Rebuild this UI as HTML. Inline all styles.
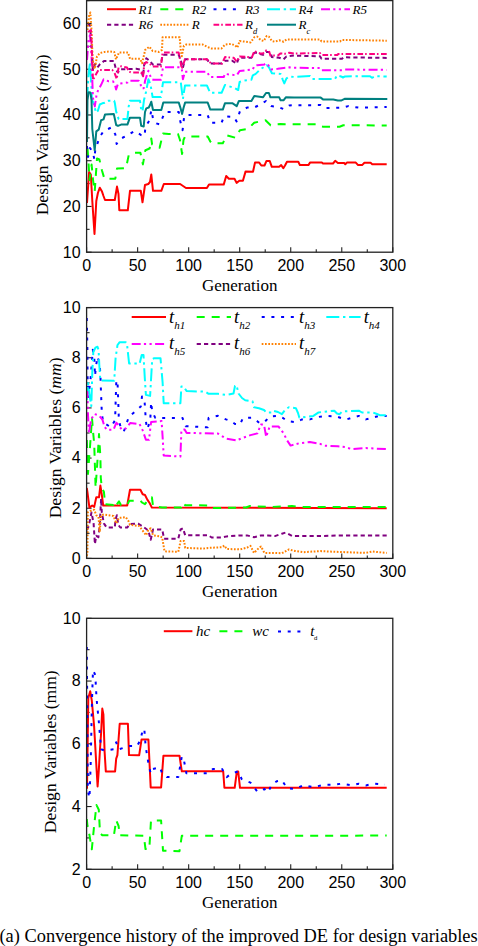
<!DOCTYPE html><html><head><meta charset="utf-8"><style>html,body{margin:0;padding:0;background:#fff;width:478px;height:946px;overflow:hidden}svg{display:block}</style></head><body>
<svg width="478" height="946" viewBox="0 0 478 946">
<g stroke="#222" stroke-width="1.1" fill="none">
<line x1="86.60" y1="252.20" x2="86.60" y2="247.20"/>
<line x1="112.12" y1="252.20" x2="112.12" y2="249.20"/>
<line x1="137.63" y1="252.20" x2="137.63" y2="247.20"/>
<line x1="163.15" y1="252.20" x2="163.15" y2="249.20"/>
<line x1="188.67" y1="252.20" x2="188.67" y2="247.20"/>
<line x1="214.18" y1="252.20" x2="214.18" y2="249.20"/>
<line x1="239.70" y1="252.20" x2="239.70" y2="247.20"/>
<line x1="265.22" y1="252.20" x2="265.22" y2="249.20"/>
<line x1="290.73" y1="252.20" x2="290.73" y2="247.20"/>
<line x1="316.25" y1="252.20" x2="316.25" y2="249.20"/>
<line x1="341.77" y1="252.20" x2="341.77" y2="247.20"/>
<line x1="367.28" y1="252.20" x2="367.28" y2="249.20"/>
<line x1="392.80" y1="252.20" x2="392.80" y2="247.20"/>
<line x1="86.60" y1="252.20" x2="91.60" y2="252.20"/>
<line x1="86.60" y1="229.33" x2="89.60" y2="229.33"/>
<line x1="86.60" y1="206.45" x2="91.60" y2="206.45"/>
<line x1="86.60" y1="183.58" x2="89.60" y2="183.58"/>
<line x1="86.60" y1="160.71" x2="91.60" y2="160.71"/>
<line x1="86.60" y1="137.84" x2="89.60" y2="137.84"/>
<line x1="86.60" y1="114.96" x2="91.60" y2="114.96"/>
<line x1="86.60" y1="92.09" x2="89.60" y2="92.09"/>
<line x1="86.60" y1="69.22" x2="91.60" y2="69.22"/>
<line x1="86.60" y1="46.35" x2="89.60" y2="46.35"/>
<line x1="86.60" y1="23.47" x2="91.60" y2="23.47"/>
<line x1="86.60" y1="0.60" x2="89.60" y2="0.60"/>
</g>
<g font-family="Liberation Sans, sans-serif" font-size="16" fill="#000">
<text x="80.6" y="257.50" text-anchor="end">10</text>
<text x="80.6" y="211.75" text-anchor="end">20</text>
<text x="80.6" y="166.01" text-anchor="end">30</text>
<text x="80.6" y="120.26" text-anchor="end">40</text>
<text x="80.6" y="74.52" text-anchor="end">50</text>
<text x="80.6" y="28.77" text-anchor="end">60</text>
<text x="86.60" y="270.50" text-anchor="middle">0</text>
<text x="137.63" y="270.50" text-anchor="middle">50</text>
<text x="188.67" y="270.50" text-anchor="middle">100</text>
<text x="239.70" y="270.50" text-anchor="middle">150</text>
<text x="290.73" y="270.50" text-anchor="middle">200</text>
<text x="341.77" y="270.50" text-anchor="middle">250</text>
<text x="392.80" y="270.50" text-anchor="middle">300</text>
</g>
<text x="239.7" y="290.60" font-family="Liberation Serif, serif" font-size="17.0" text-anchor="middle">Generation</text>
<g stroke="#222" stroke-width="1.1" fill="none">
<line x1="86.60" y1="558.40" x2="86.60" y2="553.40"/>
<line x1="112.12" y1="558.40" x2="112.12" y2="555.40"/>
<line x1="137.63" y1="558.40" x2="137.63" y2="553.40"/>
<line x1="163.15" y1="558.40" x2="163.15" y2="555.40"/>
<line x1="188.67" y1="558.40" x2="188.67" y2="553.40"/>
<line x1="214.18" y1="558.40" x2="214.18" y2="555.40"/>
<line x1="239.70" y1="558.40" x2="239.70" y2="553.40"/>
<line x1="265.22" y1="558.40" x2="265.22" y2="555.40"/>
<line x1="290.73" y1="558.40" x2="290.73" y2="553.40"/>
<line x1="316.25" y1="558.40" x2="316.25" y2="555.40"/>
<line x1="341.77" y1="558.40" x2="341.77" y2="553.40"/>
<line x1="367.28" y1="558.40" x2="367.28" y2="555.40"/>
<line x1="392.80" y1="558.40" x2="392.80" y2="553.40"/>
<line x1="86.60" y1="558.40" x2="91.60" y2="558.40"/>
<line x1="86.60" y1="533.32" x2="89.60" y2="533.32"/>
<line x1="86.60" y1="508.24" x2="91.60" y2="508.24"/>
<line x1="86.60" y1="483.16" x2="89.60" y2="483.16"/>
<line x1="86.60" y1="458.08" x2="91.60" y2="458.08"/>
<line x1="86.60" y1="433.00" x2="89.60" y2="433.00"/>
<line x1="86.60" y1="407.92" x2="91.60" y2="407.92"/>
<line x1="86.60" y1="382.84" x2="89.60" y2="382.84"/>
<line x1="86.60" y1="357.76" x2="91.60" y2="357.76"/>
<line x1="86.60" y1="332.68" x2="89.60" y2="332.68"/>
<line x1="86.60" y1="307.60" x2="91.60" y2="307.60"/>
</g>
<g font-family="Liberation Sans, sans-serif" font-size="16" fill="#000">
<text x="80.6" y="563.70" text-anchor="end">0</text>
<text x="80.6" y="513.54" text-anchor="end">2</text>
<text x="80.6" y="463.38" text-anchor="end">4</text>
<text x="80.6" y="413.22" text-anchor="end">6</text>
<text x="80.6" y="363.06" text-anchor="end">8</text>
<text x="80.6" y="312.90" text-anchor="end">10</text>
<text x="86.60" y="576.70" text-anchor="middle">0</text>
<text x="137.63" y="576.70" text-anchor="middle">50</text>
<text x="188.67" y="576.70" text-anchor="middle">100</text>
<text x="239.70" y="576.70" text-anchor="middle">150</text>
<text x="290.73" y="576.70" text-anchor="middle">200</text>
<text x="341.77" y="576.70" text-anchor="middle">250</text>
<text x="392.80" y="576.70" text-anchor="middle">300</text>
</g>
<text x="239.7" y="596.80" font-family="Liberation Serif, serif" font-size="17.0" text-anchor="middle">Generation</text>
<g stroke="#222" stroke-width="1.1" fill="none">
<line x1="86.60" y1="869.30" x2="86.60" y2="864.30"/>
<line x1="112.12" y1="869.30" x2="112.12" y2="866.30"/>
<line x1="137.63" y1="869.30" x2="137.63" y2="864.30"/>
<line x1="163.15" y1="869.30" x2="163.15" y2="866.30"/>
<line x1="188.67" y1="869.30" x2="188.67" y2="864.30"/>
<line x1="214.18" y1="869.30" x2="214.18" y2="866.30"/>
<line x1="239.70" y1="869.30" x2="239.70" y2="864.30"/>
<line x1="265.22" y1="869.30" x2="265.22" y2="866.30"/>
<line x1="290.73" y1="869.30" x2="290.73" y2="864.30"/>
<line x1="316.25" y1="869.30" x2="316.25" y2="866.30"/>
<line x1="341.77" y1="869.30" x2="341.77" y2="864.30"/>
<line x1="367.28" y1="869.30" x2="367.28" y2="866.30"/>
<line x1="392.80" y1="869.30" x2="392.80" y2="864.30"/>
<line x1="86.60" y1="869.30" x2="91.60" y2="869.30"/>
<line x1="86.60" y1="837.92" x2="89.60" y2="837.92"/>
<line x1="86.60" y1="806.55" x2="91.60" y2="806.55"/>
<line x1="86.60" y1="775.17" x2="89.60" y2="775.17"/>
<line x1="86.60" y1="743.80" x2="91.60" y2="743.80"/>
<line x1="86.60" y1="712.42" x2="89.60" y2="712.42"/>
<line x1="86.60" y1="681.05" x2="91.60" y2="681.05"/>
<line x1="86.60" y1="649.67" x2="89.60" y2="649.67"/>
<line x1="86.60" y1="618.30" x2="91.60" y2="618.30"/>
</g>
<g font-family="Liberation Sans, sans-serif" font-size="16" fill="#000">
<text x="80.6" y="874.60" text-anchor="end">2</text>
<text x="80.6" y="811.85" text-anchor="end">4</text>
<text x="80.6" y="749.10" text-anchor="end">6</text>
<text x="80.6" y="686.35" text-anchor="end">8</text>
<text x="80.6" y="623.60" text-anchor="end">10</text>
<text x="86.60" y="887.60" text-anchor="middle">0</text>
<text x="137.63" y="887.60" text-anchor="middle">50</text>
<text x="188.67" y="887.60" text-anchor="middle">100</text>
<text x="239.70" y="887.60" text-anchor="middle">150</text>
<text x="290.73" y="887.60" text-anchor="middle">200</text>
<text x="341.77" y="887.60" text-anchor="middle">250</text>
<text x="392.80" y="887.60" text-anchor="middle">300</text>
</g>
<text x="239.7" y="907.70" font-family="Liberation Serif, serif" font-size="17.0" text-anchor="middle">Generation</text>
<text transform="translate(48,134.9) rotate(-90)" font-family="Liberation Serif, serif" font-size="17.6" text-anchor="middle">Design Variables (<tspan font-style="italic">mm</tspan>)</text>
<text transform="translate(61.3,437.9) rotate(-90)" font-family="Liberation Serif, serif" font-size="17.6" text-anchor="middle">Design Variables (<tspan font-style="italic">mm</tspan>)</text>
<text transform="translate(55.5,751.7) rotate(-90)" font-family="Liberation Serif, serif" font-size="17.6" text-anchor="middle">Design Variables (mm)</text>
<text x="-0.5" y="942.3" font-family="Liberation Serif, serif" font-size="18.4">(a) Convergence history of the improved DE for design variables</text>
<defs><clipPath id="c1"><rect x="86.6" y="0.6" width="306.20" height="251.60"/></clipPath><clipPath id="c2"><rect x="86.6" y="307.6" width="306.20" height="250.80"/></clipPath><clipPath id="c3"><rect x="86.6" y="618.3" width="306.20" height="251.00"/></clipPath></defs>
<g clip-path="url(#c1)">
<polyline points="87.0,203.0 89.1,172.0 90.8,174.5 92.3,201.0 94.5,234.0 96.3,201.0 97.9,193.0 99.8,187.7 102.0,191.6 103.5,196.0 105.0,200.0 114.8,200.0 117.0,186.6 118.5,194.0 119.3,210.3 127.8,210.3 130.0,190.8 140.8,190.8 142.5,202.3 145.0,185.0 148.3,184.0 150.0,182.0 151.3,174.5 153.0,190.8 161.3,190.8 163.8,184.0 180.1,184.0 186.0,188.0 206.9,188.1 209.0,184.6 223.7,184.6 226.2,176.0 228.9,178.7 234.5,178.7 236.6,182.9 239.3,180.8 242.9,180.8 245.6,171.4 253.0,171.8 255.0,162.6 259.2,162.6 261.3,165.5 264.5,165.5 266.5,160.9 269.7,160.9 271.8,166.8 279.1,166.8 281.2,165.1 283.3,168.2 285.0,165.5 287.0,161.7 298.3,161.7 299.9,165.1 308.4,165.1 310.2,162.4 321.8,162.4 323.0,163.5 333.0,163.5 335.2,160.8 337.9,163.0 344.2,163.0 345.3,164.2 346.9,162.6 355.8,162.6 358.1,165.1 362.1,165.1 364.4,162.8 370.6,162.8 372.2,164.2 386.7,164.2" fill="none" stroke="#FF0000" stroke-width="2.0" stroke-linejoin="round"/>
<polyline points="87.5,148.5 88.4,160.0 89.5,180.0 91.6,164.6 93.1,180.5 94.7,191.6 97.0,158.5 99.4,159.5 101.9,170.3 104.4,178.7 115.3,178.7 117.0,168.6 126.0,168.0 128.7,155.2 134.5,152.7 140.4,152.7 142.9,164.4 145.4,150.2 149.6,148.5 151.3,138.5 152.1,144.4 155.0,146.5 159.6,147.7 163.0,133.5 168.8,134.0 178.0,134.0 180.0,140.0 182.1,154.0 183.5,140.0 185.1,136.5 207.7,136.5 210.3,141.5 212.0,143.3 222.8,143.3 226.6,135.2 235.4,137.7 239.9,130.2 248.0,129.0 254.2,122.7 265.5,120.2 270.6,125.2 273.0,124.5 280.5,124.0 285.0,124.2 318.0,124.2 320.7,126.0 323.0,126.7 339.6,126.7 343.3,125.2 386.7,125.5" fill="none" stroke="#00FF00" stroke-width="2.0" stroke-linejoin="round" stroke-dasharray="8 7"/>
<polyline points="87.0,146.0 88.0,157.0 90.0,148.0 92.7,151.9 94.4,159.4 95.2,150.2 99.4,137.7 103.6,131.0 111.1,127.6 115.3,134.3 116.6,143.9 121.1,138.5 127.8,135.1 134.5,131.0 141.2,135.1 144.6,136.0 145.4,126.8 149.6,120.1 151.3,110.0 153.5,121.0 156.3,123.4 159.6,124.3 163.0,116.7 165.0,112.1 178.8,112.1 180.0,120.0 182.6,130.2 184.0,118.0 185.1,115.1 207.7,115.1 210.3,122.7 221.6,122.7 224.0,116.4 234.0,117.0 236.6,121.4 239.9,111.4 247.0,107.6 254.0,107.6 260.1,104.7 266.0,101.0 271.1,106.1 277.7,106.8 283.6,109.1 289.4,105.4 294.0,105.2 320.7,105.1 324.5,108.1 343.0,107.6 348.4,106.1 358.4,107.6 386.7,107.0" fill="none" stroke="#0000FF" stroke-width="2.0" stroke-linejoin="round" stroke-dasharray="3 6.7"/>
<polyline points="87.0,100.0 88.5,75.0 90.0,62.0 91.0,80.0 92.0,100.0 93.5,102.7 96.0,112.7 97.9,110.8 99.8,104.5 102.3,103.3 104.8,102.7 108.0,100.8 114.2,100.8 114.9,103.3 116.1,111.4 118.6,119.0 127.4,119.0 128.7,106.4 129.9,100.8 140.0,100.8 141.2,109.6 142.5,111.4 144.0,100.0 146.0,92.0 148.4,79.2 150.5,84.4 152.6,97.0 160.9,97.0 163.0,82.3 180.8,82.3 182.9,99.0 185.0,85.4 206.9,85.4 210.1,92.8 221.6,92.8 225.0,84.9 233.8,87.8 238.2,90.0 239.6,82.0 244.0,80.5 251.4,79.8 252.8,75.4 255.7,73.9 260.1,69.5 264.5,66.6 266.7,65.1 268.9,67.3 271.9,73.2 280.6,73.9 282.8,79.8 284.3,83.4 286.5,78.3 289.4,76.6 294.0,76.9 310.0,76.0 312.0,78.9 335.0,78.9 337.0,75.5 341.0,76.4 343.0,77.5 345.0,76.4 370.0,76.2 372.0,77.8 375.0,76.2 386.7,76.5" fill="none" stroke="#00FFFF" stroke-width="2.0" stroke-linejoin="round" stroke-dasharray="13 3.7 2.4 3.7"/>
<polyline points="87.0,60.0 88.5,40.0 90.0,35.0 91.5,55.0 92.9,97.6 94.8,106.4 96.7,93.9 98.5,89.5 101.0,85.1 103.6,79.4 108.6,81.3 113.0,81.3 114.9,84.5 116.1,89.5 118.0,83.8 123.6,83.2 127.4,82.6 128.7,80.7 138.7,80.7 140.6,83.8 141.2,88.2 143.7,88.2 145.2,80.2 148.4,70.8 151.5,79.2 153.5,79.8 160.9,79.8 163.0,67.2 179.7,67.2 181.8,68.7 182.9,79.2 185.0,71.8 206.9,71.8 210.1,77.1 223.7,77.1 225.0,73.9 236.7,75.4 239.6,71.0 252.8,69.5 254.3,65.9 257.2,65.2 264.5,64.4 266.0,63.4 268.2,65.0 271.1,69.5 277.7,68.8 283.6,68.0 289.4,67.3 294.0,67.8 320.0,68.0 321.5,70.2 343.0,70.2 345.0,69.5 386.7,69.9" fill="none" stroke="#FF00FF" stroke-width="2.0" stroke-linejoin="round" stroke-dasharray="9 3.2 2.2 3.4 2.2 3.4"/>
<polyline points="87.5,25.0 90.0,25.0 91.5,45.0 93.0,70.0 95.0,64.0 97.3,67.5 99.8,64.4 104.0,61.0 114.2,61.0 114.9,65.0 116.1,70.0 118.0,72.5 119.9,69.4 136.2,68.8 140.0,69.5 141.8,72.5 143.0,76.4 144.2,64.5 146.3,58.2 150.5,61.4 152.6,64.5 160.9,64.5 162.6,54.7 178.7,54.7 180.8,60.3 182.9,67.7 185.0,59.3 206.9,59.3 210.1,63.5 222.0,63.5 225.0,60.7 232.0,60.7 236.7,63.7 238.9,57.8 251.4,57.8 254.3,52.7 257.2,52.7 260.0,54.0 263.1,54.9 266.0,52.0 270.4,52.0 271.9,57.1 279.2,57.8 283.6,59.3 286.5,56.4 294.0,55.6 320.0,56.3 321.5,58.8 342.0,58.8 343.5,57.3 386.7,57.9" fill="none" stroke="#800080" stroke-width="2.0" stroke-linejoin="round" stroke-dasharray="4.2 3.1"/>
<polyline points="87.5,30.0 89.0,16.0 90.3,12.5 91.5,30.0 92.5,55.0 93.5,66.0 94.8,68.9 97.0,56.3 100.0,53.0 104.8,51.9 110.0,51.5 114.2,51.9 116.0,59.4 119.0,52.5 128.0,52.5 130.0,58.8 140.0,58.8 142.1,63.2 145.2,49.9 149.4,46.7 152.6,50.9 158.8,52.0 162.0,49.9 162.6,37.3 179.7,37.3 180.8,50.9 181.8,56.2 183.9,45.7 186.0,44.6 202.8,44.6 206.9,46.7 211.1,48.4 221.6,48.4 225.0,44.6 230.9,43.9 235.2,45.4 237.4,47.6 239.6,41.0 245.5,41.7 250.6,42.4 254.3,37.3 257.2,36.6 260.9,40.2 263.8,41.0 266.7,35.9 268.9,36.6 271.9,41.0 274.8,41.7 279.2,40.2 283.6,41.7 286.5,39.5 292.3,39.5 299.9,39.4 320.0,39.5 321.5,41.4 340.0,41.4 341.5,40.0 360.0,40.2 386.8,40.7" fill="none" stroke="#FF8000" stroke-width="2.0" stroke-linejoin="round" stroke-dasharray="1.7 1.6"/>
<polyline points="88.0,32.0 91.0,30.0 92.0,55.0 93.0,80.0 95.0,76.0 98.5,70.0 112.3,70.0 114.9,73.8 116.7,78.8 118.6,67.5 121.1,66.3 127.0,67.5 128.7,71.3 131.2,72.5 141.2,72.5 143.1,76.3 144.2,64.5 146.3,62.0 150.5,64.5 152.6,66.6 160.9,66.6 162.6,52.6 178.7,52.6 181.8,68.7 185.0,59.3 206.9,59.3 211.1,63.5 222.0,63.5 225.0,57.1 233.8,57.8 236.7,61.5 239.6,56.4 248.4,57.1 252.0,57.1 254.3,51.2 260.1,53.4 263.0,53.4 266.0,50.5 268.9,50.5 270.4,55.6 277.7,55.6 280.6,53.4 286.0,53.8 289.4,52.7 294.0,53.5 320.0,53.0 321.5,55.1 337.0,55.1 338.5,53.9 386.8,54.1" fill="none" stroke="#FF0080" stroke-width="2.0" stroke-linejoin="round" stroke-dasharray="5.7 2 1.6 2.5"/>
<polyline points="87.0,142.0 87.5,100.0 88.5,92.6 90.4,92.6 91.5,100.0 92.3,129.0 94.7,150.3 96.3,131.3 98.7,129.7 101.1,120.2 103.5,119.4 105.0,114.6 113.8,114.0 116.2,125.0 118.0,125.9 121.1,124.6 127.4,124.6 129.9,117.7 140.0,117.7 141.2,125.9 143.7,126.5 145.0,112.0 146.3,108.4 148.8,107.5 150.0,105.0 151.3,101.7 153.0,110.0 161.3,110.0 163.3,102.5 178.8,102.6 180.5,108.0 182.1,113.9 183.5,108.0 185.1,102.6 207.7,102.6 210.3,109.6 222.8,109.6 225.0,103.2 232.3,103.2 236.7,106.1 238.9,101.0 251.4,101.0 254.3,95.9 263.1,97.3 266.0,93.0 268.9,93.0 270.4,97.3 279.2,97.3 280.6,100.3 283.5,100.3 285.8,97.3 294.0,97.4 320.7,97.6 323.3,99.6 333.3,99.6 337.8,100.6 341.0,100.6 344.6,98.8 387.3,99.1" fill="none" stroke="#008080" stroke-width="2.0" stroke-linejoin="round"/>
</g>
<g clip-path="url(#c2)">
<polyline points="86.8,488.0 87.4,491.8 89.4,507.6 92.2,505.5 94.2,506.9 96.3,497.3 99.0,497.3 100.4,485.6 101.8,494.6 103.2,505.5 127.2,505.5 130.0,489.8 140.4,489.7 142.7,494.3 145.0,495.0 147.3,499.6 149.6,503.0 151.9,507.6 386.7,508.2" fill="none" stroke="#FF0000" stroke-width="2.0" stroke-linejoin="round"/>
<polyline points="86.8,440.0 88.0,474.0 89.0,460.0 90.5,440.0 92.0,418.0 92.9,430.0 94.2,443.7 95.6,487.7 97.5,460.0 99.0,434.0 100.4,457.5 100.8,478.0 101.8,487.7 103.9,491.8 105.2,504.2 113.5,504.9 114.8,502.1 116.5,504.9 119.0,501.4 121.0,504.9 127.2,504.9 129.3,500.7 140.4,500.7 142.0,502.5 145.0,504.2 148.0,500.0 151.9,497.3 153.0,505.8 162.2,507.6 181.0,507.6 183.0,502.6 185.2,505.3 196.7,505.3 208.0,505.5 210.6,508.1 246.0,507.5 250.0,506.0 256.0,506.5 270.0,507.0 292.0,506.0 300.0,507.0 386.7,507.0" fill="none" stroke="#00FF00" stroke-width="2.0" stroke-linejoin="round" stroke-dasharray="8 7"/>
<polyline points="86.8,318.0 87.4,350.0 87.6,378.0 88.3,397.0 90.5,380.0 92.8,349.7 94.3,358.0 95.0,376.0 96.0,366.0 97.6,356.6 99.7,364.8 100.4,374.4 101.0,392.0 101.8,412.7 103.1,422.3 110.7,427.2 115.1,420.3 115.7,400.0 116.3,381.0 117.0,380.2 117.6,384.0 118.2,400.0 118.8,417.8 120.0,425.0 123.8,431.6 128.9,416.6 135.1,411.6 140.8,406.5 142.0,396.5 143.5,397.0 144.5,400.3 145.2,410.3 145.8,420.3 147.0,429.1 150.2,421.6 151.1,402.2 152.2,411.6 155.3,417.9 182.5,417.9 185.6,426.2 207.6,427.3 208.6,417.9 218.0,415.8 226.0,419.4 231.0,421.0 235.0,424.0 240.0,424.6 243.0,418.0 252.2,417.7 257.0,421.0 259.2,422.9 264.0,422.5 269.7,416.6 278.0,415.9 283.0,418.0 287.1,421.1 295.9,422.2 302.0,419.4 309.9,419.4 318.0,417.0 325.6,415.9 336.0,416.3 341.0,418.0 346.5,419.4 352.0,417.7 358.8,415.9 365.8,419.4 372.0,417.7 379.7,415.9 386.7,415.9" fill="none" stroke="#0000FF" stroke-width="2.0" stroke-linejoin="round" stroke-dasharray="3 6.7"/>
<polyline points="86.8,400.0 88.0,383.0 89.5,395.0 91.3,406.0 92.3,372.0 93.3,352.0 95.4,347.7 97.5,346.7 98.6,350.0 99.3,365.0 100.3,380.5 114.2,380.8 115.6,358.0 117.5,345.0 119.5,342.3 125.9,342.3 127.2,346.0 129.1,363.5 139.6,363.5 141.7,355.1 143.5,355.1 144.8,378.1 145.9,394.9 150.1,395.9 152.2,359.3 154.2,358.2 160.5,358.2 162.6,382.3 163.7,403.2 180.4,403.2 181.4,386.5 183.5,386.5 186.7,391.1 205.5,391.7 208.6,393.8 218.0,393.8 226.0,394.9 233.5,393.5 235.0,386.0 236.5,385.2 238.5,393.5 242.0,398.0 245.2,400.2 252.5,401.2 254.0,407.2 259.0,408.2 264.0,410.0 266.2,412.4 272.0,412.4 273.2,410.7 278.0,412.0 281.9,414.2 285.0,410.0 288.9,407.2 295.9,408.2 298.0,413.0 299.4,417.7 313.4,415.9 318.6,412.4 327.3,411.4 334.3,410.7 337.0,413.5 339.6,414.2 342.0,411.5 358.8,410.7 362.0,412.5 372.8,412.4 377.0,414.0 379.7,415.2 386.7,415.2" fill="none" stroke="#00FFFF" stroke-width="2.0" stroke-linejoin="round" stroke-dasharray="13 3.7 2.4 3.7"/>
<polyline points="86.8,395.0 87.4,392.0 88.0,415.0 89.0,433.0 91.0,420.0 94.2,414.0 99.0,415.5 102.4,419.6 104.5,426.4 106.6,429.7 113.5,429.7 116.3,422.8 118.5,425.0 121.8,429.7 126.0,428.3 130.2,423.1 139.6,424.1 142.7,430.4 145.9,439.8 149.0,439.8 151.1,422.0 161.6,421.0 162.6,436.7 163.7,455.5 180.4,456.6 181.4,430.4 184.6,429.4 186.7,432.9 218.0,433.6 226.0,438.6 236.5,440.4 243.5,437.6 250.5,435.1 257.4,433.4 260.9,424.6 264.0,424.6 266.2,436.9 269.7,426.4 278.4,426.4 283.7,433.4 287.1,440.4 290.6,445.6 299.4,443.2 309.9,442.1 320.3,443.9 323.8,445.6 337.8,446.3 345.0,447.0 351.8,449.1 365.8,448.1 386.7,449.1" fill="none" stroke="#FF00FF" stroke-width="2.0" stroke-linejoin="round" stroke-dasharray="9 3.2 2.2 3.4 2.2 3.4"/>
<polyline points="86.8,530.0 88.7,526.2 91.5,512.4 93.6,523.4 94.9,544.0 96.3,535.8 98.4,537.1 99.7,526.2 101.1,498.7 101.8,512.4 103.9,523.4 106.6,527.5 114.8,527.5 115.5,519.3 116.9,515.2 118.3,524.8 120.3,527.5 127.2,527.5 130.0,524.1 138.1,523.7 143.8,527.2 148.4,530.6 150.7,539.8 153.0,529.5 162.2,529.5 164.1,538.7 178.3,538.7 180.6,529.5 182.9,528.3 185.2,535.2 208.2,535.2 211.7,537.5 222.0,537.5 226.7,536.4 240.0,535.4 247.0,535.4 254.0,537.2 261.0,535.4 268.0,535.4 274.9,536.1 281.9,533.7 285.4,532.6 288.0,533.7 292.4,536.1 316.8,536.1 341.3,535.4 386.7,535.4" fill="none" stroke="#800080" stroke-width="2.0" stroke-linejoin="round" stroke-dasharray="4.2 3.1"/>
<polyline points="86.8,556.0 87.4,553.6 87.8,512.4 90.1,511.0 94.2,509.7 96.3,515.2 98.5,517.0 99.7,532.0 101.1,515.2 103.9,514.5 113.5,515.9 116.2,523.4 119.0,517.9 125.8,517.2 128.6,521.3 130.0,524.9 139.2,526.0 146.1,535.2 148.4,529.5 150.7,528.3 153.0,535.2 159.9,536.4 162.2,537.5 164.5,551.3 178.3,551.8 180.6,541.0 184.1,541.0 185.2,547.9 203.6,548.6 208.2,547.9 222.1,547.2 224.4,545.6 226.7,549.0 240.0,549.4 247.0,547.7 250.5,545.9 254.0,552.9 259.2,547.7 261.0,546.5 264.4,552.9 274.9,552.9 282.0,553.2 288.9,549.4 295.0,551.0 302.9,552.2 320.3,551.1 340.0,552.0 365.8,552.9 372.0,551.5 386.7,552.9" fill="none" stroke="#FF8000" stroke-width="2.0" stroke-linejoin="round" stroke-dasharray="1.7 1.6"/>
</g>
<g clip-path="url(#c3)">
<polyline points="87.0,788.8 88.3,698.0 90.2,691.2 91.8,700.5 94.1,726.0 96.5,768.0 97.6,786.5 98.8,770.2 100.0,749.3 101.1,733.0 102.3,708.6 103.4,714.4 104.6,751.6 105.8,771.4 115.1,771.4 116.2,758.6 117.4,755.1 119.7,723.7 127.9,723.7 129.0,755.1 139.2,755.2 141.5,739.6 148.4,739.6 150.7,787.5 161.1,787.5 163.4,755.7 179.5,755.7 181.8,771.3 223.2,771.3 224.4,787.8 234.7,787.8 236.8,771.8 238.2,771.4 240.0,787.8 386.7,787.8" fill="none" stroke="#FF0000" stroke-width="2.0" stroke-linejoin="round"/>
<polyline points="86.8,819.0 87.5,826.0 89.5,835.3 91.8,849.3 94.1,826.0 96.5,805.1 98.8,809.8 100.0,833.0 102.3,835.3 113.9,835.3 116.2,820.2 118.6,826.0 119.7,835.3 143.8,835.8 145.5,849.0 149.3,849.0 151.0,820.5 161.1,820.5 163.0,850.7 179.5,851.2 181.8,835.8 386.7,835.6" fill="none" stroke="#00FF00" stroke-width="2.0" stroke-linejoin="round" stroke-dasharray="8 7"/>
<polyline points="86.8,647.0 87.2,700.0 87.8,791.0 89.5,798.0 90.7,763.0 92.0,700.0 93.0,670.2 95.3,675.0 96.5,698.0 98.8,721.4 101.1,749.3 104.6,750.5 113.9,749.3 116.2,742.3 118.6,749.3 130.0,746.0 136.9,746.0 140.4,740.3 142.7,729.9 144.3,728.8 145.6,746.0 148.4,763.3 150.7,773.6 153.0,769.0 159.9,767.2 162.2,773.6 166.8,777.1 178.3,777.1 181.8,756.4 183.5,758.0 186.4,773.2 208.2,773.2 212.9,769.0 222.1,769.0 226.7,777.1 231.3,773.6 238.2,771.4 241.7,779.1 250.5,782.6 257.4,791.7 264.4,789.0 268.0,792.4 271.4,785.4 276.7,781.2 281.9,780.2 287.1,788.2 295.9,788.9 302.9,785.4 313.4,787.2 323.8,784.7 334.3,784.7 341.3,783.7 351.8,785.4 358.8,783.7 365.8,785.4 374.5,783.7 385.0,784.4" fill="none" stroke="#0000FF" stroke-width="2.0" stroke-linejoin="round" stroke-dasharray="3 6.7"/>
</g>
<line x1="107" y1="9.2" x2="136" y2="9.2" stroke="#FF0000" stroke-width="2.0"/>
<text x="138.5" y="13.8" font-family="Liberation Serif, serif" font-style="italic" font-size="13">R1</text>
<line x1="160.3" y1="9.2" x2="189.3" y2="9.2" stroke="#00FF00" stroke-width="2.0" stroke-dasharray="8 7"/>
<text x="191.8" y="13.8" font-family="Liberation Serif, serif" font-style="italic" font-size="13">R2</text>
<line x1="213.5" y1="9.2" x2="242.5" y2="9.2" stroke="#0000FF" stroke-width="2.0" stroke-dasharray="3 6.7"/>
<text x="245.0" y="13.8" font-family="Liberation Serif, serif" font-style="italic" font-size="13">R3</text>
<line x1="267" y1="9.2" x2="296" y2="9.2" stroke="#00FFFF" stroke-width="2.0" stroke-dasharray="13 3.7 2.4 3.7"/>
<text x="298.5" y="13.8" font-family="Liberation Serif, serif" font-style="italic" font-size="13">R4</text>
<line x1="321" y1="9.2" x2="350" y2="9.2" stroke="#FF00FF" stroke-width="2.0" stroke-dasharray="9 3.2 2.2 3.4 2.2 3.4"/>
<text x="352.5" y="13.8" font-family="Liberation Serif, serif" font-style="italic" font-size="13">R5</text>
<line x1="107" y1="24.7" x2="136" y2="24.7" stroke="#800080" stroke-width="2.0" stroke-dasharray="4.2 3.1"/>
<text x="138.5" y="28.9" font-family="Liberation Serif, serif" font-style="italic" font-size="13">R6</text>
<line x1="160.3" y1="24.7" x2="189.3" y2="24.7" stroke="#FF8000" stroke-width="2.0" stroke-dasharray="1.7 1.6"/>
<text x="191.8" y="28.9" font-family="Liberation Serif, serif" font-style="italic" font-size="13">R</text>
<line x1="213.5" y1="24.7" x2="242.5" y2="24.7" stroke="#FF0080" stroke-width="2.0" stroke-dasharray="5.7 2 1.6 2.5"/>
<text x="245.0" y="28.9" font-family="Liberation Serif, serif" font-style="italic" font-size="13">R<tspan font-size="8.5" dy="4.8">d</tspan></text>
<line x1="267" y1="24.7" x2="296" y2="24.7" stroke="#008080" stroke-width="2.0"/>
<text x="298.5" y="28.9" font-family="Liberation Serif, serif" font-style="italic" font-size="13">R<tspan font-size="8.5" dy="4.8">c</tspan></text>
<line x1="131.7" y1="317" x2="166.0" y2="317" stroke="#FF0000" stroke-width="2.0"/>
<text x="169.1" y="322.6" font-family="Liberation Serif, serif" font-style="italic" font-size="18.5">t<tspan font-size="11" dy="5.9">h1</tspan></text>
<line x1="196.7" y1="317" x2="231.0" y2="317" stroke="#00FF00" stroke-width="2.0" stroke-dasharray="8 7"/>
<text x="234.1" y="322.6" font-family="Liberation Serif, serif" font-style="italic" font-size="18.5">t<tspan font-size="11" dy="5.9">h2</tspan></text>
<line x1="261.7" y1="317" x2="296.0" y2="317" stroke="#0000FF" stroke-width="2.0" stroke-dasharray="3 6.7"/>
<text x="299.09999999999997" y="322.6" font-family="Liberation Serif, serif" font-style="italic" font-size="18.5">t<tspan font-size="11" dy="5.9">h3</tspan></text>
<line x1="326.3" y1="317" x2="360.6" y2="317" stroke="#00FFFF" stroke-width="2.0" stroke-dasharray="13 3.7 2.4 3.7"/>
<text x="363.7" y="322.6" font-family="Liberation Serif, serif" font-style="italic" font-size="18.5">t<tspan font-size="11" dy="5.9">h4</tspan></text>
<line x1="131.7" y1="344" x2="166.0" y2="344" stroke="#FF00FF" stroke-width="2.0" stroke-dasharray="9 3.2 2.2 3.4 2.2 3.4"/>
<text x="169.1" y="349.4" font-family="Liberation Serif, serif" font-style="italic" font-size="18.5">t<tspan font-size="11" dy="5.9">h5</tspan></text>
<line x1="196.7" y1="344" x2="231.0" y2="344" stroke="#800080" stroke-width="2.0" stroke-dasharray="4.2 3.1"/>
<text x="234.1" y="349.4" font-family="Liberation Serif, serif" font-style="italic" font-size="18.5">t<tspan font-size="11" dy="5.9">h6</tspan></text>
<line x1="261.7" y1="344" x2="296.0" y2="344" stroke="#FF8000" stroke-width="2.0" stroke-dasharray="1.7 1.6"/>
<text x="299.09999999999997" y="349.4" font-family="Liberation Serif, serif" font-style="italic" font-size="18.5">t<tspan font-size="11" dy="5.9">h7</tspan></text>
<line x1="163.8" y1="631.2" x2="192.4" y2="631.2" stroke="#FF0000" stroke-width="2.0"/>
<text x="196" y="635.6" font-family="Liberation Serif, serif" font-style="italic" font-size="15">hc</text>
<line x1="219.4" y1="631.2" x2="246" y2="631.2" stroke="#00FF00" stroke-width="2.0" stroke-dasharray="8 7"/>
<text x="252.3" y="635.6" font-family="Liberation Serif, serif" font-style="italic" font-size="15">wc</text>
<line x1="278" y1="631.5" x2="302" y2="631.5" stroke="#0000FF" stroke-width="2.0" stroke-dasharray="3 6.7"/>
<text x="310.2" y="635.6" font-family="Liberation Serif, serif" font-style="italic" font-size="15">t</text>
<text x="313.9" y="640.3" font-family="Liberation Sans, sans-serif" font-size="6">d</text>
<rect x="86.6" y="0.6" width="306.20" height="251.60" fill="none" stroke="#222" stroke-width="1.3"/>
<rect x="86.6" y="307.6" width="306.20" height="250.80" fill="none" stroke="#222" stroke-width="1.3"/>
<rect x="86.6" y="618.3" width="306.20" height="251.00" fill="none" stroke="#222" stroke-width="1.3"/>
</svg></body></html>
